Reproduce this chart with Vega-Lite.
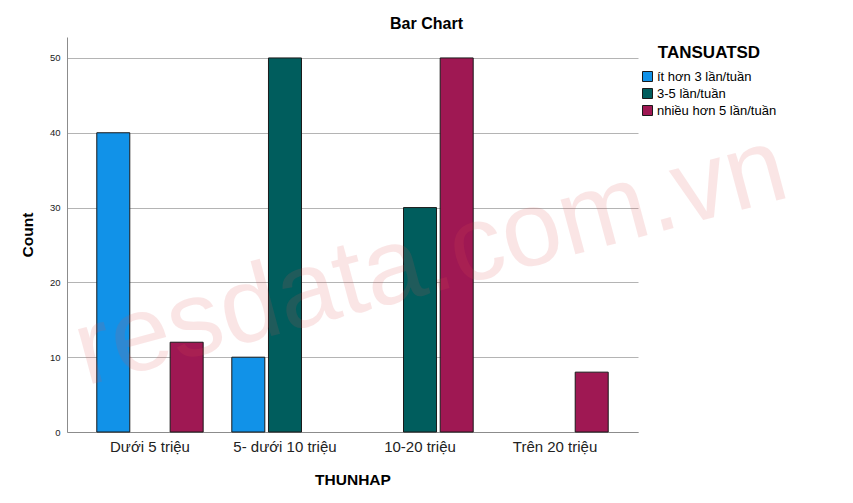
{
  "$schema": "https://vega.github.io/schema/vega-lite/v6.json",
  "autosize": {"type": "none"},
  "width": 571,
  "height": 395,
  "padding": {"left": 67, "top": 37, "right": 215, "bottom": 71},
  "background": "white",
  "config": {
    "font": "Liberation Sans",
    "view": {"stroke": null},
    "axis": {"gridColor": "#b4b4b4", "domainColor": "#8c8c8c", "ticks": false, "labelColor": "#222222", "titleColor": "#000000", "titleFontWeight": "bold", "titleFontSize": 15.5}
  },
  "title": {"text": "Bar Chart", "fontSize": 16, "fontWeight": "bold", "anchor": "middle", "frame": "group", "dx": 74, "offset": 5, "color": "#000000"},
  "datasets": {
    "bars": [
      {"THUNHAP": "Dưới 5 triệu", "TANSUATSD": "ít hơn 3 lần/tuần", "Count": 40},
      {"THUNHAP": "Dưới 5 triệu", "TANSUATSD": "nhiều hơn 5 lần/tuần", "Count": 12},
      {"THUNHAP": "5- dưới 10 triệu", "TANSUATSD": "ít hơn 3 lần/tuần", "Count": 10},
      {"THUNHAP": "5- dưới 10 triệu", "TANSUATSD": "3-5 lần/tuần", "Count": 50},
      {"THUNHAP": "10-20 triệu", "TANSUATSD": "3-5 lần/tuần", "Count": 30},
      {"THUNHAP": "10-20 triệu", "TANSUATSD": "nhiều hơn 5 lần/tuần", "Count": 50},
      {"THUNHAP": "Trên 20 triệu", "TANSUATSD": "nhiều hơn 5 lần/tuần", "Count": 8}
    ],
    "mark": [
      {"THUNHAP": "10-20 triệu", "Count": 22.6, "label": "resdata.com.vn"}
    ]
  },
  "layer": [
    {
      "data": {"name": "bars"},
      "mark": {"type": "bar", "stroke": "#1a1a1a", "strokeWidth": 1},
      "encoding": {
        "x": {
          "field": "THUNHAP", "type": "nominal",
          "scale": {"domain": ["Dưới 5 triệu", "5- dưới 10 triệu", "10-20 triệu", "Trên 20 triệu"], "paddingInner": 0.185, "paddingOuter": 0.207},
          "axis": {"labelAngle": 0, "labelAlign": "center", "labelFontSize": 15, "labelPadding": 7, "titlePadding": 18, "title": "THUNHAP"}
        },
        "xOffset": {
          "field": "TANSUATSD", "type": "nominal",
          "scale": {"domain": ["ít hơn 3 lần/tuần", "3-5 lần/tuần", "nhiều hơn 5 lần/tuần"], "paddingInner": 0.1, "paddingOuter": 0.05}
        },
        "y": {
          "field": "Count", "type": "quantitative",
          "scale": {"domain": [0, 52.8], "nice": false},
          "axis": {"values": [0, 10, 20, 30, 40, 50], "labelFontSize": 9.5, "labelPadding": 7, "titlePadding": 14, "title": "Count", "grid": true}
        },
        "color": {
          "field": "TANSUATSD", "type": "nominal",
          "scale": {"domain": ["ít hơn 3 lần/tuần", "3-5 lần/tuần", "nhiều hơn 5 lần/tuần"], "range": ["#1192e8", "#005d5d", "#9f1853"]},
          "legend": {"title": "TANSUATSD", "orient": "none", "legendX": 574, "legendY": 8, "padding": 0, "titleFontSize": 17, "titleFontWeight": "bold", "titleColor": "#000000", "titleAnchor": "middle", "titlePadding": 8, "labelFontSize": 13, "labelColor": "#000000", "symbolType": "square", "symbolSize": 100, "symbolStrokeColor": "#1a1a1a", "symbolStrokeWidth": 1, "symbolOpacity": 1, "labelOffset": 3, "rowPadding": 2}
        }
      }
    },
    {
      "data": {"name": "mark"},
      "mark": {"type": "text", "fontSize": 107, "angle": -15, "color": "#e05050", "opacity": 0.14, "align": "center", "baseline": "middle", "dx": 11, "font": "Liberation Sans"},
      "encoding": {
        "x": {"field": "THUNHAP", "type": "nominal"},
        "y": {"field": "Count", "type": "quantitative"},
        "text": {"field": "label"}
      }
    }
  ]
}
